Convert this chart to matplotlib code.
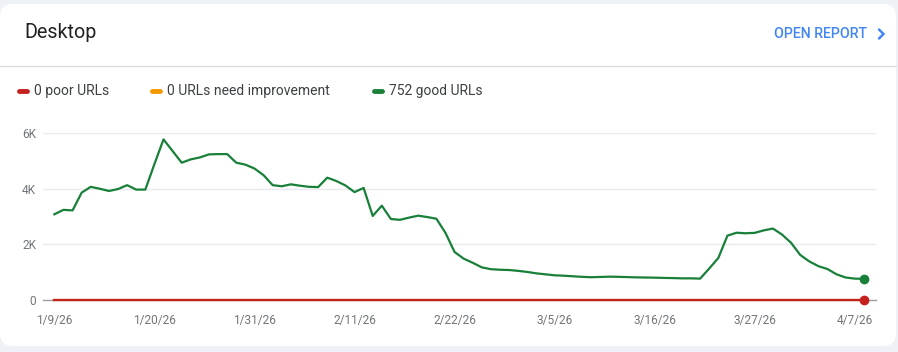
import numpy as np
import pandas as pd
import matplotlib.pyplot as plt
import matplotlib.dates as mdates
from matplotlib.patches import FancyBboxPatch

plt.rcParams['font.family'] = ['Roboto', 'DejaVu Sans']

# daily URL counts, 1/9/26 .. 4/8/26
dates = pd.date_range('2026-01-09', '2026-04-08', freq='D')
good = [3080, 3240, 3220, 3860, 4070, 4000, 3920, 3990, 4130, 3970,
        3970, 4890, 5780, 5360, 4940, 5060, 5130, 5240, 5250, 5250,
        4940, 4870, 4730, 4490, 4130, 4090, 4160, 4110, 4070, 4060,
        4400, 4280, 4120, 3880, 4030, 3020, 3390, 2910, 2880, 2960,
        3030, 2980, 2920, 2410, 1720, 1480, 1330, 1165, 1100, 1080,
        1070, 1040, 1000, 950, 915, 880, 865, 845, 825, 810,
        820, 830, 825, 815, 805, 800, 795, 785, 780, 770,
        770, 760, 1125, 1505, 2310, 2415, 2395, 2410, 2500, 2565,
        2350, 2050, 1615, 1380, 1210, 1105, 915, 800, 760, 752]
poor = [0] * 90
need_improvement = [0] * 90

tick_dates = pd.to_datetime(['2026-01-09', '2026-01-20', '2026-01-31', '2026-02-11',
                             '2026-02-22', '2026-03-05', '2026-03-16', '2026-03-27',
                             '2026-04-07'])
tick_labels = ['1/9/26', '1/20/26', '1/31/26', '2/11/26', '2/22/26',
               '3/5/26', '3/16/26', '3/27/26', '4/7/26']
y_ticks = [0, 2000, 4000, 6000]
y_labels = ['0', '2K', '4K', '6K']

c_poor = '#c5221f'
c_need = '#f29900'
c_good = '#188038'

fig = plt.figure(figsize=(8.98, 3.52), dpi=100)
fig.patch.set_facecolor('#eef1f6')

# card background, header and legend (pixel coords)
bg = fig.add_axes([0, 0, 1, 1])
bg.set_xlim(0, 898)
bg.set_ylim(352, 0)
bg.axis('off')
bg.add_patch(FancyBboxPatch((0, 4), 896, 342, boxstyle='round,pad=0,rounding_size=13',
                            fc='white', ec='none'))
bg.plot([0, 896], [66, 66], color='#dadce0', lw=1)
bg.text(24, 33, 'Desktop', fontsize=14.2, color='#202124', va='center')
bg.text(867, 34, 'OPEN REPORT', fontsize=10.2, color='#4285f4', ha='right', va='center',
        weight='medium')
bg.plot([879, 883.5, 879], [29.5, 34, 38.5], color='#4285f4', lw=1.8,
        solid_capstyle='round', solid_joinstyle='miter')

legend_items = [
    (f'{poor[-1]} poor URLs', c_poor, 17),
    (f'{need_improvement[-1]} URLs need improvement', c_need, 150),
    (f'{good[-1]} good URLs', c_good, 372),
]
for label, col, x0 in legend_items:
    bg.plot([x0 + 1.5, x0 + 9.5], [91, 91], color=col, lw=3.5, solid_capstyle='round')
    bg.text(x0 + 17, 91, label, fontsize=10, color='#3c4043', va='center')

# chart
ax = fig.add_axes([43 / 898, 1 - 299.7 / 352, 833 / 898, 166.4 / 352])
ax.patch.set_alpha(0)
ax.plot(dates, need_improvement, color=c_need, lw=1.6, clip_on=False)
ax.plot(dates, poor, color=c_poor, lw=1.6, clip_on=False, zorder=3)
ax.plot(dates, good, color=c_good, lw=1.6, clip_on=False, zorder=3)
ax.plot(dates[-1], poor[-1], 'o', color=c_poor, ms=6, clip_on=False, zorder=4)
ax.plot(dates[-1], good[-1], 'o', color=c_good, ms=6, clip_on=False, zorder=4)

ax.set_ylim(0, 6000)
ax.set_xlim(dates[0] - pd.Timedelta(hours=30), dates[-1] + pd.Timedelta(hours=32))
ax.set_yticks(y_ticks, y_labels)
ax.set_xticks(tick_dates, tick_labels)
ax.yaxis.grid(True, color='#e8eaed', lw=1)
ax.set_axisbelow(True)
for s in ['top', 'right', 'left']:
    ax.spines[s].set_visible(False)
ax.spines['bottom'].set_color('#9aa0a6')
ax.spines['bottom'].set_linewidth(1)
ax.tick_params(axis='both', length=0, labelsize=8.6, labelcolor='#70757a')
ax.tick_params(axis='y', pad=5)
ax.tick_params(axis='x', pad=10)

fig.savefig('out.png', dpi=100, facecolor=fig.get_facecolor())
